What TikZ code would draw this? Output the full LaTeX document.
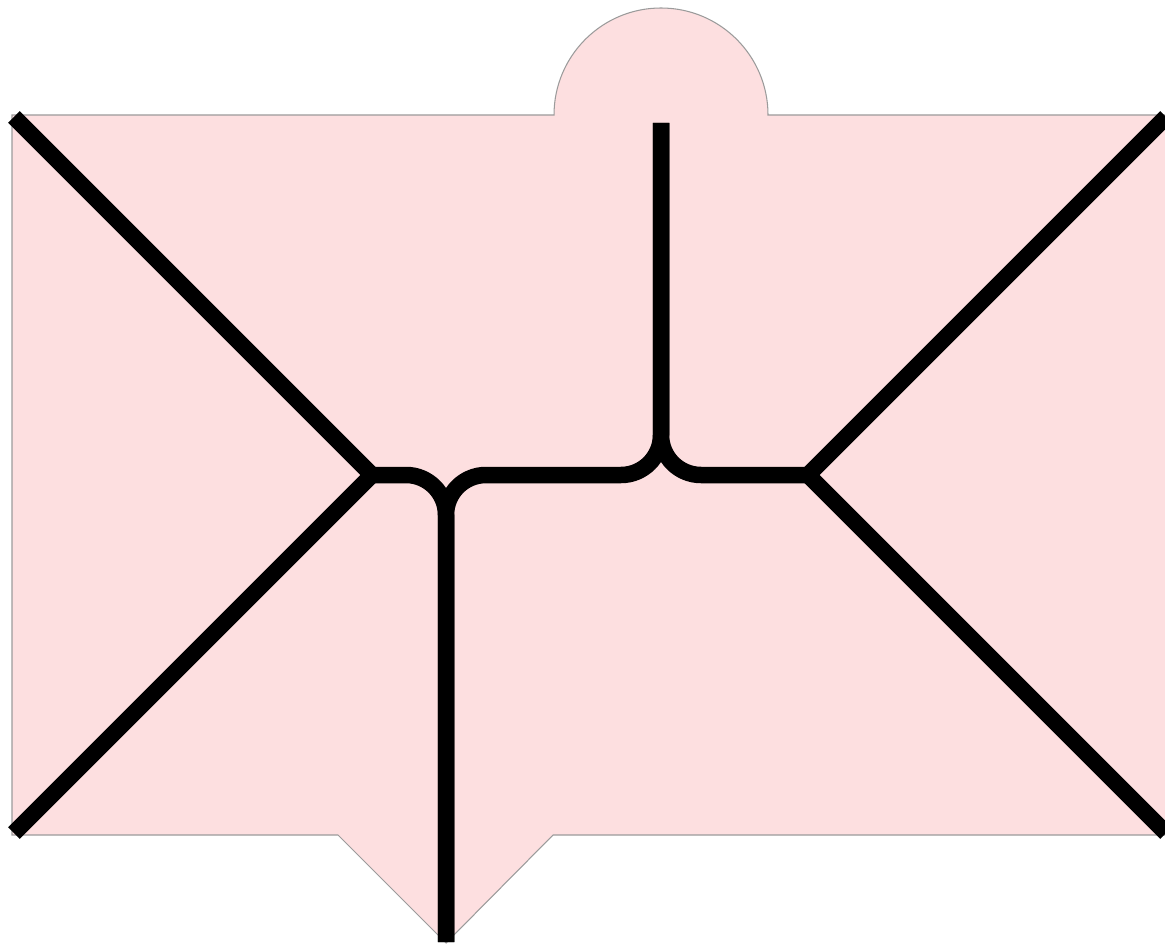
\documentclass[tikz,border=0pt]{standalone}
\usepackage{xcolor}
\usepackage{tikz}
\definecolor{cPlate}{RGB}{253,223,224}
\definecolor{cEdge}{RGB}{155,155,155}

\begin{document}
\begin{tikzpicture}[
  x=0.02cm, y=-0.02cm,
  plate/.style={draw=cEdge, line width=0.6pt, fill=cPlate},
  wire/.style={draw=black, line width=0.33cm, line cap=butt, miter limit=10},
  roundwire/.style={wire, rounded corners=0.8cm}]
\useasboundingbox (0,0) rectangle (1165,945);
% background plate with the bump on top and the notch below
\path[plate] (12,835) -- (12,115) -- (554,115)
  arc[start angle=180, end angle=360, radius=107]
  -- (1172,115) -- (1172,835) -- (553,835) -- (446,943) -- (338,835) -- cycle;
% end points and junctions
\coordinate (tl) at (14,117);
\coordinate (bl) at (14,833);
\coordinate (tr) at (1166,117);
\coordinate (br) at (1166,833);
\coordinate (jl) at (372,475);
\coordinate (jr) at (808,475);
\coordinate (top) at (661,123);
\coordinate (bot) at (446,942);
% wires
\draw[wire] (tl) -- (jl) -- (bl);
\draw[wire] (tr) -- (jr) -- (br);
\draw[roundwire] (jl) -| (bot);
\draw[roundwire] (bot) |- (top |- jl) -- (top);
\draw[roundwire] (jr) -| (top);
\end{tikzpicture}
\end{document}
